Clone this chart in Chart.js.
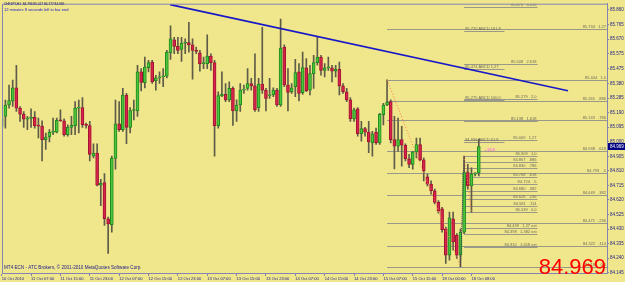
<!DOCTYPE html>
<html>
<head>
<meta charset="utf-8">
<script src="https://cdn.jsdelivr.net/npm/chart.js@4.4.0/dist/chart.umd.min.js"></script>
<style>
  html, body { margin: 0; padding: 0; background: #f0e68c; }
  canvas { display: block; }
</style>
</head>
<body>
<canvas id="chart" width="625" height="282"></canvas>
<script>
// CHFJPY H1 candles, 10 Oct 23:00 .. 18 Oct 10:00
const symbol = "CHFJPY,H1";
const timeLeft = "12 minutes 8 seconds left to bar end";
const copyright = "MT4 ECN - ATC Brokers, \u00a9 2001-2010 MetaQuotes Software Corp.";

const opens = [
  85.100, 85.165, 85.240, 85.266, 85.352, 85.219, 85.180, 85.148, 85.152, 85.161,
  85.105, 85.102, 85.014, 85.031, 85.061, 85.063, 85.139, 85.137, 85.046, 85.094,
  85.105, 85.219, 85.223, 85.111, 85.105, 84.906, 84.926, 84.717, 84.734, 84.497,
  84.458, 84.891, 85.117, 85.079, 85.305, 85.094, 85.204, 85.201, 85.456, 85.385,
  85.484, 85.520, 85.398, 85.417, 85.423, 85.428, 85.581, 85.665, 85.622, 85.602,
  85.643, 85.647, 85.632, 85.596, 85.581, 85.510, 85.510, 85.559, 85.516, 85.105,
  85.301, 85.309, 85.273, 85.348, 85.201, 85.240, 85.337, 85.348, 85.380, 85.365,
  85.223, 85.376, 85.337, 85.299, 85.305, 85.337, 85.240, 85.617, 85.370, 85.326,
  85.359, 85.456, 85.320, 85.482, 85.337, 85.445, 85.516, 85.553, 85.466, 85.482,
  85.482, 85.460, 85.473, 85.365, 85.326, 85.273, 85.150, 85.214, 85.053, 85.085,
  85.063, 84.992, 85.061, 84.992, 85.176, 85.240, 85.262, 85.014, 84.971, 85.014,
  84.977, 84.889, 84.852, 84.934, 84.982, 84.882, 84.770, 84.723, 84.680, 84.604,
  84.562, 84.432, 84.260, 84.497, 84.389, 84.260, 84.410, 84.798, 84.712, 84.788,
  84.796
];
const highs = [
  85.219, 85.272, 85.370, 85.402, 85.499, 85.230, 85.197, 85.165, 85.214, 85.197,
  85.154, 85.137, 85.057, 85.079, 85.154, 85.154, 85.208, 85.150, 85.111, 85.165,
  85.262, 85.272, 85.288, 85.122, 85.133, 84.986, 84.986, 84.755, 84.792, 84.508,
  84.906, 85.272, 85.262, 85.348, 85.316, 85.223, 85.272, 85.499, 85.477, 85.553,
  85.531, 85.531, 85.434, 85.456, 85.477, 85.596, 85.757, 85.682, 85.682, 85.682,
  85.671, 85.779, 85.671, 85.617, 85.596, 85.553, 85.697, 85.574, 85.531, 85.326,
  85.456, 85.380, 85.391, 85.359, 85.273, 85.380, 85.370, 85.477, 85.413, 85.574,
  85.413, 85.747, 85.348, 85.413, 85.352, 85.348, 85.800, 85.632, 85.477, 85.380,
  85.538, 85.510, 85.585, 85.542, 85.499, 85.564, 85.688, 85.564, 85.510, 85.553,
  85.499, 85.499, 85.520, 85.380, 85.348, 85.288, 85.219, 85.223, 85.133, 85.094,
  85.133, 85.068, 85.089, 85.186, 85.251, 85.404, 85.273, 85.165, 85.154, 85.100,
  84.986, 84.917, 84.938, 85.024, 85.024, 84.895, 84.788, 84.744, 84.691, 84.615,
  84.572, 84.443, 84.540, 84.540, 84.400, 84.432, 84.906, 84.852, 84.830, 84.798,
  85.017
];
const lows = [
  85.068, 85.089, 85.219, 85.230, 85.197, 85.133, 85.094, 85.079, 85.094, 85.089,
  85.025, 84.874, 84.949, 84.999, 85.046, 85.057, 85.133, 85.036, 85.036, 85.046,
  85.046, 85.057, 85.094, 85.089, 84.874, 84.895, 84.712, 84.583, 84.454, 84.271,
  84.410, 84.820, 85.068, 85.068, 84.988, 85.057, 85.143, 85.165, 85.331, 85.352,
  85.456, 85.380, 85.337, 85.380, 85.359, 85.417, 85.538, 85.574, 85.574, 85.525,
  85.574, 85.585, 85.408, 85.574, 85.460, 85.477, 85.477, 85.466, 84.906, 85.089,
  85.294, 85.262, 85.262, 85.107, 85.133, 85.197, 85.316, 85.337, 85.337, 85.197,
  85.197, 85.316, 85.201, 85.283, 85.294, 85.230, 85.230, 85.359, 85.201, 85.316,
  85.294, 85.266, 85.309, 85.326, 85.305, 85.348, 85.499, 85.434, 85.423, 85.466,
  85.391, 85.423, 85.305, 85.316, 85.262, 85.133, 85.133, 85.036, 85.003, 85.036,
  84.928, 84.906, 84.982, 84.982, 85.110, 85.236, 84.992, 84.822, 84.938, 84.841,
  84.874, 84.830, 84.820, 84.895, 84.874, 84.744, 84.712, 84.658, 84.594, 84.533,
  84.410, 84.206, 84.227, 84.292, 84.238, 84.184, 84.400, 84.691, 84.540, 84.777,
  84.777
];
const closes = [
  85.158, 85.240, 85.268, 85.352, 85.219, 85.180, 85.148, 85.152, 85.161, 85.105,
  85.102, 85.014, 85.031, 85.061, 85.066, 85.139, 85.137, 85.046, 85.094, 85.107,
  85.219, 85.223, 85.111, 85.107, 84.917, 84.926, 84.717, 84.730, 84.497, 84.464,
  84.891, 85.117, 85.079, 85.305, 85.094, 85.204, 85.206, 85.456, 85.387, 85.488,
  85.516, 85.391, 85.417, 85.423, 85.428, 85.585, 85.671, 85.622, 85.596, 85.643,
  85.646, 85.632, 85.596, 85.589, 85.510, 85.512, 85.559, 85.516, 85.105, 85.301,
  85.309, 85.273, 85.348, 85.201, 85.240, 85.337, 85.341, 85.380, 85.365, 85.208,
  85.376, 85.337, 85.283, 85.301, 85.337, 85.240, 85.611, 85.370, 85.322, 85.352,
  85.451, 85.316, 85.484, 85.331, 85.445, 85.516, 85.553, 85.466, 85.482, 85.484,
  85.460, 85.473, 85.365, 85.326, 85.273, 85.150, 85.208, 85.053, 85.085, 85.063,
  84.999, 85.051, 84.992, 85.180, 85.240, 85.258, 85.014, 84.971, 85.014, 84.977,
  84.889, 84.852, 84.934, 84.982, 84.882, 84.809, 84.723, 84.680, 84.604, 84.546,
  84.426, 84.260, 84.503, 84.346, 84.260, 84.410, 84.798, 84.712, 84.788, 84.796,
  84.969
];

// one time label every 8 bars
const timeLabels = [
  "10 Oct 2010", "11 Oct 07:00", "11 Oct 15:00", "11 Oct 23:00", "12 Oct 07:00",
  "12 Oct 15:00", "12 Oct 23:00", "13 Oct 07:00", "13 Oct 15:00", "13 Oct 23:00",
  "14 Oct 07:00", "14 Oct 15:00", "14 Oct 23:00", "15 Oct 07:00", "15 Oct 15:00",
  "18 Oct 00:00", "18 Oct 08:00"
];
const barsPerLabel = 8;

const priceTicks = [
  84.145, 84.240, 84.335, 84.430, 84.525, 84.620, 84.715, 84.810, 84.905, 85.000,
  85.095, 85.190, 85.285, 85.380, 85.475, 85.575, 85.670, 85.765, 85.860
];

// trendline (bar index, price)
const trendX = [45.9, 154.3];
const trendY = [85.895, 85.333];

// fibo retracement from bar 105 high to bar 125 low
const retrLevels = [85.734, 85.404, 85.265, 85.143, 84.938, 84.793, 84.649, 84.471, 84.322, 84.180];
const retrRatios = ["1.27", "1.0", ".886", ".786", ".618", ".5", ".382", ".236", ".114", "0.0"];
const retrFrom = 105;

// fibo expansion drawn from bar 126
const extLevels = [85.878, 85.508, 85.279, 85.138, 85.009, 84.909, 84.867, 84.830, 84.768,
  84.724, 84.680, 84.626, 84.581, 84.539, 84.439, 84.398, 84.310];
const extRatios = ["3.618", "2.618", "2.0", "1.618", "1.27", "1.0", ".886", ".786", ".618",
  ".5", ".382", ".236", ".114", "0.0", "1.27 ext", "1.382 ext", "1.618 ext"];
const extFrom = 126, extTo = 146;

// ABCD projections
const abcdLevels = [85.720, 85.474, 85.275, 84.996];
const abcdRatios = ["161.8", "1.27", "100.0", "61.8"];
const abcdFrom = 126, abcdTo = 137;

// zigzag legs A-B-C-D
const legX = [105, 125, 126, 128];
const legY = [85.404, 84.184, 84.906, 84.540];

const bgColor = "#f0e68c";
const axisColor = "#8484b4";
const textColor = "#1c1c8c";
const levelColor = "#9a9888";
const levelText = "#6c6a5c";

const idx = closes.map((c, i) => i);

const wickData = idx.map(i => ({ x: i, y: [lows[i], highs[i]] }));
const bodyData = idx.map(i => ({ x: i, y: [Math.min(opens[i], closes[i]), Math.max(opens[i], closes[i])] }));

const bodyFill = idx.map(i => closes[i] > opens[i] ? "#4cc43c" : (closes[i] < opens[i] ? "#d8244a" : "#303030"));
const bodyEdge = idx.map(i => closes[i] > opens[i] ? "#1f8a1f" : (closes[i] < opens[i] ? "#a01432" : "#303030"));

const mt4Plugin = {
  id: "mt4",
  beforeDraw(chart) {
    const ctx = chart.ctx;
    ctx.save();
    ctx.fillStyle = bgColor;
    ctx.fillRect(0, 0, chart.width, chart.height);
    ctx.restore();
  },
  beforeDatasetsDraw(chart) {
    const ctx = chart.ctx;
    const xs = chart.scales.x;
    const ys = chart.scales.y;
    const area = chart.chartArea;

    ctx.save();
    ctx.beginPath();
    ctx.rect(area.left, area.top, area.right - area.left, area.bottom - area.top);
    ctx.clip();
    ctx.lineWidth = 1;
    ctx.strokeStyle = levelColor;
    ctx.fillStyle = levelText;
    ctx.font = "4px 'Liberation Sans'";
    ctx.textBaseline = "bottom";

    function hline(price, x0, x1) {
      const y = Math.round(ys.getPixelForValue(price)) + 0.5;
      ctx.beginPath();
      ctx.moveTo(x0, y);
      ctx.lineTo(x1, y);
      ctx.stroke();
      return y;
    }

    // retracement
    const r0 = xs.getPixelForValue(retrFrom);
    retrLevels.forEach((p, k) => {
      const y = hline(p, r0, area.right);
      ctx.textAlign = "right";
      ctx.fillText(p.toFixed(3) + "   " + retrRatios[k], area.right - 1, y - 1);
    });

    // expansion
    const e0 = xs.getPixelForValue(extFrom);
    const e1 = xs.getPixelForValue(extTo);
    extLevels.forEach((p, k) => {
      const y = hline(p, e0, e1);
      ctx.textAlign = "right";
      ctx.fillText(p.toFixed(3) + "   " + extRatios[k], e1 - 1, y - 1);
    });

    // ABCD
    const a0 = xs.getPixelForValue(abcdFrom);
    const a1 = xs.getPixelForValue(abcdTo);
    abcdLevels.forEach((p, k) => {
      const y = hline(p, a0, a1);
      ctx.textAlign = "left";
      ctx.fillText(p.toFixed(3) + " ABCD " + abcdRatios[k], a0 + 1, y - 1);
    });

    ctx.restore();
  },
  afterDatasetsDraw(chart) {
    const ctx = chart.ctx;
    const xs = chart.scales.x;
    const ys = chart.scales.y;
    const area = chart.chartArea;
    const n = closes.length - 1;

    ctx.save();
    // frame top/left
    ctx.strokeStyle = axisColor;
    ctx.lineWidth = 1;
    ctx.beginPath();
    ctx.moveTo(area.left + 0.5, area.bottom);
    ctx.lineTo(area.left + 0.5, area.top + 0.5);
    ctx.lineTo(area.right, area.top + 0.5);
    ctx.stroke();

    // header text
    ctx.textAlign = "left";
    ctx.textBaseline = "middle";
    ctx.font = "3.2px 'Liberation Sans'";
    ctx.fillStyle = "#10106a";
    ctx.fillText(symbol + "  " + opens[n].toFixed(3) + " " + highs[n].toFixed(3) + " " +
      lows[n].toFixed(3) + " " + closes[n].toFixed(3), area.left + 2, 4);
    ctx.fillStyle = "#1a1ad0";
    ctx.font = "4px 'Liberation Sans'";
    ctx.fillText(timeLeft, area.left + 2, 10);

    ctx.fillStyle = textColor;
    ctx.font = "4.6px 'Liberation Sans'";
    ctx.fillText(copyright, area.left + 2, 268);

    // magenta counter
    ctx.fillStyle = "#ff40ff";
    ctx.font = "4px 'Liberation Sans'";
    ctx.fillText("+13.8", xs.getPixelForValue(131.6), ys.getPixelForValue(84.948));

    // big last price
    ctx.fillStyle = "#ff0000";
    ctx.font = "22px 'Liberation Sans'";
    ctx.textAlign = "right";
    ctx.textBaseline = "alphabetic";
    ctx.fillText(closes[n].toFixed(3), area.right - 1, 274);

    // price box on the axis
    const py = Math.round(ys.getPixelForValue(closes[n]));
    ctx.fillStyle = "#000080";
    ctx.fillRect(area.right + 1, py - 3, chart.width - area.right - 1, 7);
    ctx.fillStyle = "#ffffff";
    ctx.font = "4.5px 'Liberation Sans'";
    ctx.textAlign = "left";
    ctx.textBaseline = "middle";
    ctx.fillText(closes[n].toFixed(3), area.right + 3, py + 0.5);
    ctx.restore();
  }
};

new Chart(document.getElementById("chart"), {
  type: "bar",
  data: {
    datasets: [
      {
        type: "line",
        data: trendX.map((x, k) => ({ x: x, y: trendY[k] })),
        borderColor: "#1818c8",
        borderWidth: 1.6,
        pointRadius: 0,
        order: 0
      },
      {
        type: "line",
        data: legX.slice(0, 2).map((x, k) => ({ x: x, y: legY[k] })),
        borderColor: "#ff7a3a",
        borderWidth: 1,
        borderDash: [1, 2],
        pointRadius: 0,
        order: 0
      },
      {
        type: "line",
        data: legX.slice(1, 3).map((x, k) => ({ x: x, y: legY[k + 1] })),
        borderColor: "#303050",
        borderWidth: 1,
        borderDash: [1, 1],
        pointRadius: 0,
        order: 0
      },
      {
        type: "line",
        data: legX.slice(2, 4).map((x, k) => ({ x: x, y: legY[k + 2] })),
        borderColor: "#ff7a3a",
        borderWidth: 1,
        borderDash: [1, 2],
        pointRadius: 0,
        order: 0
      },
      {
        data: bodyData,
        backgroundColor: bodyFill,
        borderColor: bodyEdge,
        borderWidth: 1,
        borderSkipped: false,
        barThickness: 3,
        minBarLength: 1,
        grouped: false,
        order: 1
      },
      {
        data: wickData,
        backgroundColor: "#5e5c48",
        borderWidth: 0,
        barThickness: 1,
        grouped: false,
        order: 2
      }
    ]
  },
  options: {
    responsive: false,
    animation: false,
    events: [],
    layout: { padding: { left: 2, top: 1, right: 0, bottom: 0 } },
    plugins: {
      legend: { display: false },
      tooltip: { enabled: false }
    },
    scales: {
      x: {
        type: "linear",
        position: "bottom",
        min: 0.08,
        max: 164.93,
        offset: false,
        grid: { display: true, offset: false, drawOnChartArea: false, tickLength: 3, color: axisColor },
        border: { display: true, color: axisColor },
        ticks: {
          align: "start",
          maxRotation: 0,
          autoSkip: false,
          padding: 0,
          color: textColor,
          font: { family: "'Liberation Sans'", size: 4.1 },
          callback: (v, i) => timeLabels[i]
        },
        afterBuildTicks: s => { s.ticks = timeLabels.map((t, k) => ({ value: k * barsPerLabel })); },
        afterFit: s => { s.height = 9; }
      },
      y: {
        type: "linear",
        position: "right",
        min: 84.143,
        max: 85.901,
        grid: { display: true, drawOnChartArea: false, tickLength: 2, color: axisColor },
        border: { display: true, color: axisColor },
        ticks: {
          padding: 1,
          color: textColor,
          font: { family: "'Liberation Sans'", size: 4.5 },
          callback: v => v.toFixed(3)
        },
        afterBuildTicks: s => { s.ticks = priceTicks.map(p => ({ value: p })); },
        afterFit: s => { s.width = 18; }
      }
    }
  },
  plugins: [mt4Plugin]
});
</script>
</body>
</html>
